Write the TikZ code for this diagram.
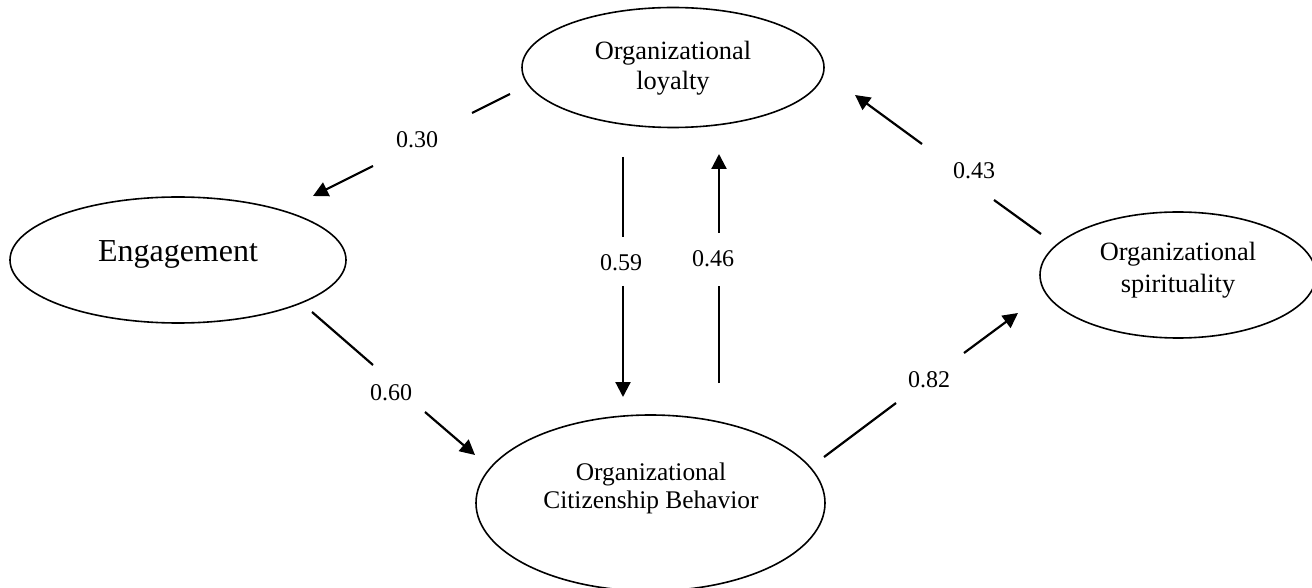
\documentclass[tikz,border=0pt]{standalone}
\usepackage{fontspec}
\setmainfont{Liberation Serif}
\usetikzlibrary{shapes.geometric,arrows.meta}
\tikzset{
  ell/.style={draw, ellipse, line width=0.8pt, inner sep=0pt},
  nodetext/.style={align=center, inner sep=0pt, font=\fontsize{13.2}{15}\selectfont},
  conn/.style={line width=1.1pt},
  arr/.style={conn, -{Triangle[length=7.5pt,width=7.5pt]}},
  weight/.style={inner sep=0pt, font=\fontsize{12}{14}\selectfont}
}
\begin{document}
\begin{tikzpicture}[x=0.5pt,y=-0.5pt]
\useasboundingbox (0,0) rectangle (1312,588);
% ellipses
\node[ell, minimum width=151pt, minimum height=60pt] (loy) at (673,67.5) {};
\node[ell, minimum width=168pt, minimum height=63pt] (eng) at (178,260) {};
\node[ell, minimum width=174.5pt, minimum height=88pt] (ocb) at (650.5,503) {};
\node[ell, minimum width=138pt, minimum height=63pt] (spi) at (1178,275) {};
% texts
\node[nodetext] (loytext) at (673,68) {Organizational\\loyalty};
\node[nodetext, font=\fontsize{16}{18}\selectfont] (engtext) at (178,254) {Engagement};
\node[nodetext, font=\fontsize{12.7}{14}\selectfont] (ocbtext) at (651,488) {Organizational\\Citizenship Behavior};
\node[nodetext, font=\fontsize{13.2}{16}\selectfont] (spitext) at (1178,270) {Organizational\\spirituality};
% connector end points
\coordinate (a1) at (510,94);  \coordinate (a2) at (472,113);
\coordinate (a3) at (373,166); \coordinate (a4) at (313,196);
\coordinate (b1) at (312,312); \coordinate (b2) at (373,365);
\coordinate (b3) at (425,412); \coordinate (b4) at (475,455);
\coordinate (c1) at (623,157); \coordinate (c2) at (623,237);
\coordinate (c3) at (623,286); \coordinate (c4) at (623,397);
\coordinate (d1) at (719,383); \coordinate (d2) at (719,286);
\coordinate (d3) at (719,233); \coordinate (d4) at (719,154);
\coordinate (e1) at (1041,234); \coordinate (e2) at (994,200);
\coordinate (e3) at (922,144); \coordinate (e4) at (855,95);
\coordinate (f1) at (824,457); \coordinate (f2) at (896,403);
\coordinate (f3) at (964,353); \coordinate (f4) at (1018,313);
% weights
\node[weight] (w30) at (417,140) {0.30};
\node[weight] (w60) at (391,393) {0.60};
\node[weight] (w59) at (621,263) {0.59};
\node[weight] (w46) at (713,259) {0.46};
\node[weight] (w43) at (974,171) {0.43};
\node[weight] (w82) at (929,380) {0.82};
% connectors
\draw[conn] (a1) -- (a2); \draw[arr] (a3) -- (a4);
\draw[conn] (b1) -- (b2); \draw[arr] (b3) -- (b4);
\draw[conn] (c1) -- (c2); \draw[arr] (c3) -- (c4);
\draw[conn] (d1) -- (d2); \draw[arr] (d3) -- (d4);
\draw[conn] (e1) -- (e2); \draw[arr] (e3) -- (e4);
\draw[conn] (f1) -- (f2); \draw[arr] (f3) -- (f4);
\end{tikzpicture}
\end{document}
